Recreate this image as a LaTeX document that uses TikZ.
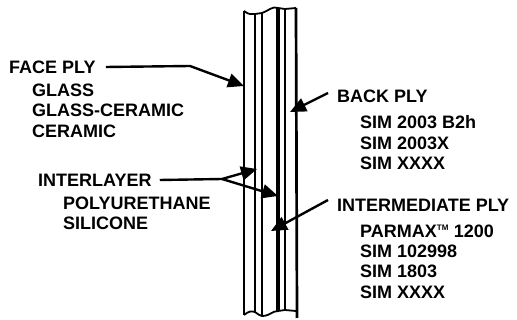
\documentclass[tikz,border=0pt]{standalone}
\usepackage{fontspec}
\setmainfont{Liberation Sans}
\usetikzlibrary{arrows.meta,positioning}

\begin{document}
\begin{tikzpicture}[
  x=1pt, y=-1pt,
  head/.style={anchor=west, inner sep=0pt, font=\fontsize{18}{20}\selectfont\bfseries},
  items/.style={anchor=north west, inner sep=0pt, align=left, font=\fontsize{18}{20.4}\selectfont\bfseries},
  arr/.style={-{Triangle[length=16pt,width=14pt]}, line width=2.4pt},
  lead/.style={line width=2.4pt},
  ply/.style={line width=2.7pt}
]
\useasboundingbox (0,0) rectangle (517,320);
% plies
\coordinate (f1) at (244,11);
\coordinate (f2) at (255,14);
\coordinate (i1) at (262,13);
\coordinate (m1) at (278,8);
\coordinate (m2) at (285,9);
\coordinate (b1) at (296,8);
\coordinate (f3) at (244,315);
\coordinate (f4) at (255,312);
\coordinate (i2) at (262,316);
\coordinate (m3) at (278,311);
\coordinate (m4) at (285,310);
\coordinate (b2) at (297,318);
\draw[ply] (f1) -- (f3);
\draw[ply] (f2) -- (f4);
\draw[ply] (i1) -- (i2);
\draw[line width=3.4pt] (m1) -- (m3);
\draw[ply] (m2) -- (m4);
\draw[ply] (b1) -- (b2);
\draw[line width=1.8pt] (f1) .. controls (249,15) and (251,14) .. (f2) -- (i1) .. controls (270,10) and (272,6) .. (m1) -- (m2) -- (b1);
\draw[line width=1.8pt] (f3) .. controls (249,311) and (251,311) .. (f4) .. controls (258,314) and (260,316) .. (i2) .. controls (270,316) and (272,311) .. (m3) -- (m4) -- (296,311);
% labels
\node[head] (face) at (9,67) {FACE PLY};
\node[items, below right=10pt and 23pt of face.south west, anchor=north west] (facelist) {GLASS\\GLASS-CERAMIC\\CERAMIC};
\node[head] (inter) at (38,180) {INTERLAYER};
\node[items, below right=10pt and 25pt of inter.south west, anchor=north west] (interlist) {POLYURETHANE\\SILICONE};
\node[head] (back) at (337,96) {BACK PLY};
\node[items, below right=13pt and 23pt of back.south west, anchor=north west] (backlist) {SIM 2003 B2h\\SIM 2003X\\SIM XXXX};
\node[head] (mid) at (337,205) {INTERMEDIATE PLY};
\node[items, below right=13pt and 23pt of mid.south west, anchor=north west] (midlist) {PARMAX\textsuperscript{\fontsize{8}{8}\selectfont TM} 1200\\SIM 102998\\SIM 1803\\SIM XXXX};
% arrows
\coordinate (facebend) at (190,66);
\coordinate (facetip) at (244,86);
\coordinate (split) at (222,179);
\coordinate (intertip) at (257,169);
\coordinate (intertipb) at (278,196);
\coordinate (backtip) at (290,112);
\coordinate (midtip) at (271,231);
\draw[arr] (face.east) ++(10pt,0) -- (facebend) -- (facetip);
\draw[lead] (inter.east) ++(8pt,0) -- (split);
\draw[arr] (split) -- (intertip);
\draw[arr] (split) -- (intertipb);
\draw[arr] (back.west) ++(-9pt,3pt) -- (backtip);
\draw[arr] (mid.west) ++(-9pt,5pt) -- (midtip);
\end{tikzpicture}
\end{document}
